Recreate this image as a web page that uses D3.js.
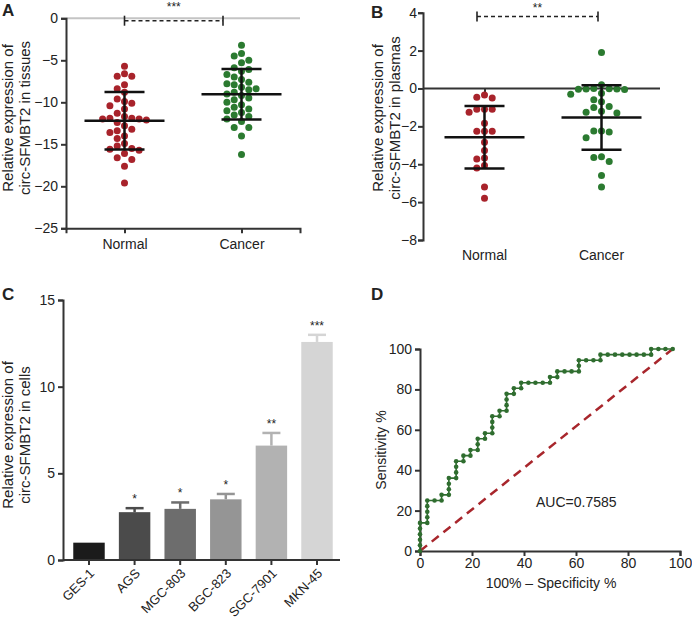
<!DOCTYPE html>
<html>
<head>
<meta charset="utf-8">
<script src="https://cdn.jsdelivr.net/npm/d3@7"></script>
<style>
body { margin: 0; background: #fff; }
text { font-family: Arial, "Liberation Sans", sans-serif; fill: #222; }
</style>
</head>
<body>
<div id="chart"></div>
<script>
// panel A / B groups
var groups = ['Normal', 'Cancer'];

var tissueNormal = [-5.7, -6.6, -6.9, -6.9, -7.9, -8.4, -8.8, -9.6, -9.9, -10.1, -10.4, -10.8, -11.3, -11.7, -11.9,
    -11.9, -12.0, -12.0, -12.1, -12.4, -12.8, -13.2, -13.4, -13.6, -14.0, -14.3, -14.9, -15.2, -15.5, -15.6,
    -15.7, -16.1, -16.6, -16.8, -17.6, -19.6];
var tissueCancer = [-3.2, -4.2, -4.5, -5.0, -5.3, -5.9, -6.1, -6.3, -6.7, -7.0, -7.3, -7.6, -7.8, -7.9, -8.2,
    -8.4, -8.5, -8.8, -9.0, -9.2, -9.5, -9.7, -10.0, -10.3, -10.6, -10.8, -11.0, -11.2, -11.5, -11.7,
    -12.0, -12.3, -13.0, -13.0, -14.0, -16.2];
var tissueMean = [-12.2, -9.05];
var tissueSD = [3.43, 3.0];

var plasmaNormal = [-0.35, -0.47, -0.5, -1.1, -1.1, -1.1, -1.26, -1.84, -2.26, -2.26, -2.26, -2.84, -3.28,
    -3.67, -3.72, -4.07, -4.2, -5.2, -5.8];
var plasmaCancer = [1.9, 0.2, 0.0, -0.02, -0.03, -0.03, -0.04, -0.05, -0.25, -0.3, -0.6, -0.7, -0.95, -1.0,
    -1.2, -1.25, -1.3, -2.25, -2.25, -2.3, -2.6, -3.6, -3.65, -3.85, -4.6, -5.2];
var plasmaMean = [-2.58, -1.53];
var plasmaSD = [1.65, 1.7];

// panel C
var cellLines = ['GES-1', 'AGS', 'MGC-803', 'BGC-823', 'SGC-7901', 'MKN-45'];
var cellValues = [1.0, 2.76, 2.95, 3.5, 6.6, 12.58];
var cellErrors = [0, 0.23, 0.37, 0.31, 0.73, 0.41];
var cellStars = ['', '*', '*', '*', '**', '***'];

// panel D
var rocFpr = [0, 0, 0, 0, 0, 0, 2.8, 2.8, 2.8, 2.8, 2.8, 5.6, 8.3, 8.3, 11.1, 11.1, 11.1, 11.1,
    13.9, 13.9, 13.9, 13.9, 16.7, 16.7, 19.4, 19.4, 22.2, 22.2, 22.2, 25, 25, 27.8, 27.8, 27.8, 27.8,
    30.6, 30.6, 33.3, 33.3, 33.3, 33.3, 36.1, 36.1, 38.9, 38.9, 41.7, 44.4, 47.2, 50, 50, 52.8, 52.8,
    55.6, 58.3, 61.1, 61.1, 61.1, 63.9, 66.7, 69.4, 69.4, 72.2, 75, 77.8, 80.6, 83.3, 86.1, 88.9, 88.9,
    91.7, 94.4, 97.2];
var rocTpr = [0, 2.8, 5.6, 8.3, 11.1, 13.9, 13.9, 16.7, 19.4, 22.2, 25, 25, 25, 27.8, 27.8, 30.6, 33.3, 36.1,
    36.1, 38.9, 41.7, 44.4, 44.4, 47.2, 47.2, 50, 50, 52.8, 55.6, 55.6, 58.3, 58.3, 61.1, 63.9, 66.7,
    66.7, 69.4, 69.4, 72.2, 75, 77.8, 77.8, 80.6, 80.6, 83.3, 83.3, 83.3, 83.3, 83.3, 86.1, 86.1, 88.9,
    88.9, 88.9, 88.9, 91.7, 94.4, 94.4, 94.4, 94.4, 97.2, 97.2, 97.2, 97.2, 97.2, 97.2, 97.2, 97.2, 100,
    100, 100, 100];
var aucText = 'AUC=0.7585';

var red = '#a8232b', green = '#2b7a30';

var svg = d3.select('#chart').append('svg')
    .attr('width', 692)
    .attr('height', 623);

function styleAxis(g) {
    g.select('.domain').attr('stroke', '#333').attr('stroke-width', 2);
    g.selectAll('.tick line').attr('stroke', '#333').attr('stroke-width', 2);
    g.selectAll('.tick text').attr('font-size', '14px').attr('fill', '#222')
        .style('font-family', 'Arial, "Liberation Sans", sans-serif');
}

function panelLabel(txt, x, y) {
    svg.append('text').attr('x', x).attr('y', y)
        .attr('font-size', '17px').attr('font-weight', 'bold').text(txt);
}

function yTitle(lines, x, yc) {
    lines.forEach(function(l, i) {
        svg.append('text')
            .attr('transform', 'translate(' + (x + i * 17) + ',' + yc + ') rotate(-90)')
            .attr('text-anchor', 'middle')
            .attr('font-size', '15px')
            .text(l);
    });
}

// simple beeswarm: each point goes to the nearest free column
function swarm(vals, y, cx, dx, r) {
    var placed = [];
    vals.slice().sort(function(a, b) { return b - a; }).forEach(function(v) {
        var py = y(v);
        for (var k = 0; k < 30; k++) {
            var off = k === 0 ? 0 : (k % 2 ? -Math.ceil(k / 2) : Math.ceil(k / 2));
            var px = cx + off * dx;
            var free = placed.every(function(p) {
                return Math.hypot(p.x - px, p.y - py) >= 2 * r - 0.2;
            });
            if (free) { placed.push({x: px, y: py}); break; }
        }
    });
    return placed;
}

function scatterPanel(opt) {
    var x = opt.x, y = opt.y;
    [opt.a, opt.b].forEach(function(vals, i) {
        var cx = x(groups[i]);
        var pts = swarm(vals, y, cx, opt.dx, 3.5);
        svg.append('g').selectAll('circle')
            .data(pts)
            .enter()
            .append('circle')
            .attr('cx', function(d) { return d.x; })
            .attr('cy', function(d) { return d.y; })
            .attr('r', 3.5)
            .attr('fill', i === 0 ? red : green);
    });
    groups.forEach(function(gname, i) {
        var cx = x(gname), m = opt.mean[i], s = opt.sd[i];
        var g = svg.append('g').attr('stroke', '#111').attr('stroke-width', 2.5);
        g.append('line').attr('x1', cx).attr('x2', cx).attr('y1', y(m + s)).attr('y2', y(m - s));
        g.append('line').attr('x1', cx - 40).attr('x2', cx + 40).attr('y1', y(m)).attr('y2', y(m));
        [m + s, m - s].forEach(function(v) {
            g.append('line').attr('x1', cx - 20).attr('x2', cx + 20).attr('y1', y(v)).attr('y2', y(v));
        });
    });
}

function bracket(x1, x2, yy, stars, sy) {
    var g = svg.append('g').attr('stroke', '#222').attr('stroke-width', 1.6);
    g.append('line').attr('x1', x1).attr('x2', x2).attr('y1', yy).attr('y2', yy)
        .attr('stroke-dasharray', '4,3');
    [x1, x2].forEach(function(xx) {
        g.append('line').attr('x1', xx).attr('x2', xx).attr('y1', yy - 5).attr('y2', yy + 5);
    });
    svg.append('text').attr('x', (x1 + x2) / 2).attr('y', sy)
        .attr('text-anchor', 'middle').attr('font-size', '12px').text(stars);
}

// ---------- Panel A ----------
var xA = d3.scalePoint().domain(groups).range([66, 300]).padding(0.5);
var yA = d3.scaleLinear().domain([-25, 0]).range([228.3, 18.3]);

svg.append('line').attr('x1', 66).attr('x2', 300).attr('y1', yA(0)).attr('y2', yA(0))
    .attr('stroke', '#c4c4c4').attr('stroke-width', 2);

svg.append('g').attr('transform', 'translate(0,' + yA(-25) + ')')
    .call(d3.axisBottom(xA).tickSizeOuter(0).tickSize(5).tickPadding(6))
    .call(styleAxis);
svg.append('g').attr('transform', 'translate(66,0)')
    .call(d3.axisLeft(yA).tickValues([0, -5, -10, -15, -20, -25]).tickSizeOuter(0).tickSize(5).tickPadding(3))
    .call(styleAxis);

scatterPanel({x: xA, y: yA, a: tissueNormal, b: tissueCancer, mean: tissueMean, sd: tissueSD, dx: 7.3});
bracket(xA('Normal'), 223, 20.7, '***', 11);
panelLabel('A', 2, 16);
yTitle(['Relative expression of', 'circ-SFMBT2 in tissues'], 13, 118);

// ---------- Panel B ----------
var xB = d3.scalePoint().domain(groups).range([426, 660]).padding(0.5);
var yB = d3.scaleLinear().domain([-8, 4]).range([240, 12.7]);

svg.append('g').attr('transform', 'translate(423,0)')
    .call(d3.axisLeft(yB).tickValues([4, 2, 0, -2, -4, -6, -8]).tickSizeOuter(0).tickSize(5).tickPadding(1))
    .call(styleAxis);
svg.append('g').attr('transform', 'translate(0,' + yB(0) + ')')
    .call(d3.axisBottom(xB).tickSizeOuter(0).tickSize(5).tickFormat(''))
    .call(styleAxis)
    .select('.domain').attr('d', 'M423,0H660');
svg.append('g').selectAll('text')
    .data(groups)
    .enter()
    .append('text')
    .attr('x', function(d) { return xB(d); })
    .attr('y', 260)
    .attr('text-anchor', 'middle')
    .attr('font-size', '14px')
    .text(function(d) { return d; });

scatterPanel({x: xB, y: yB, a: plasmaNormal, b: plasmaCancer, mean: plasmaMean, sd: plasmaSD, dx: 7.7});
bracket(477, 598, 16.5, '**', 11.5);
panelLabel('B', 371, 18);
yTitle(['Relative expression of', 'circ-SFMBT2 in plasmas'], 383, 118);

// ---------- Panel C ----------
var xC = d3.scaleBand().domain(cellLines).range([63, 343]).paddingInner(0.31).paddingOuter(0.225);
var yC = d3.scaleLinear().domain([0, 15]).range([560, 300]);
var greys = ['#1b1b1b', '#4b4b4b', '#6d6d6d', '#959595', '#b2b2b2', '#d5d5d5'];

svg.append('g').selectAll('rect')
    .data(cellValues)
    .enter()
    .append('rect')
    .attr('x', function(d, i) { return xC(cellLines[i]); })
    .attr('y', function(d) { return yC(d); })
    .attr('width', xC.bandwidth())
    .attr('height', function(d) { return yC(0) - yC(d); })
    .attr('fill', function(d, i) { return greys[i]; });

var errG = svg.append('g').selectAll('g')
    .data(cellValues)
    .enter()
    .filter(function(d, i) { return cellErrors[i] > 0; })
    .append('g')
    .attr('stroke', function(d) { return greys[cellValues.indexOf(d)]; })
    .attr('stroke-width', 2.5);
errG.append('line')
    .attr('x1', function(d) { return xC(cellLines[cellValues.indexOf(d)]) + xC.bandwidth() / 2; })
    .attr('x2', function(d) { return xC(cellLines[cellValues.indexOf(d)]) + xC.bandwidth() / 2; })
    .attr('y1', function(d) { return yC(d); })
    .attr('y2', function(d) { return yC(d + cellErrors[cellValues.indexOf(d)]); });
errG.append('line')
    .attr('x1', function(d) { return xC(cellLines[cellValues.indexOf(d)]) + xC.bandwidth() / 2 - 9; })
    .attr('x2', function(d) { return xC(cellLines[cellValues.indexOf(d)]) + xC.bandwidth() / 2 + 9; })
    .attr('y1', function(d) { return yC(d + cellErrors[cellValues.indexOf(d)]); })
    .attr('y2', function(d) { return yC(d + cellErrors[cellValues.indexOf(d)]); });

svg.append('g').selectAll('text')
    .data(cellStars)
    .enter()
    .append('text')
    .attr('x', function(d, i) { return xC(cellLines[i]) + xC.bandwidth() / 2; })
    .attr('y', function(d, i) { return yC(cellValues[i] + cellErrors[i]) - 5; })
    .attr('text-anchor', 'middle')
    .attr('font-size', '12px')
    .text(function(d) { return d; });

var axC = svg.append('g').attr('transform', 'translate(0,560)')
    .call(d3.axisBottom(xC).tickSizeOuter(0).tickSize(5))
    .call(styleAxis);
axC.select('.domain').attr('d', 'M63,0H340');
axC.selectAll('.tick text')
    .attr('font-size', '13px')
    .attr('text-anchor', 'end')
    .attr('x', 0).attr('y', 0).attr('dy', '0.35em')
    .attr('transform', 'translate(3,11) rotate(-45)');
svg.append('g').attr('transform', 'translate(63,0)')
    .call(d3.axisLeft(yC).tickValues([0, 5, 10, 15]).tickSizeOuter(0).tickSize(5).tickPadding(3))
    .call(styleAxis);

panelLabel('C', 2, 300);
yTitle(['Relative expression of', 'circ-SFMBT2 in cells'], 13, 435);

// ---------- Panel D ----------
var xD = d3.scaleLinear().domain([0, 100]).range([420, 680]);
var yD = d3.scaleLinear().domain([0, 100]).range([551, 349]);

svg.append('g').attr('transform', 'translate(0,551)')
    .call(d3.axisBottom(xD).ticks(5).tickSizeOuter(0).tickSize(5).tickPadding(2))
    .call(styleAxis);
svg.append('g').attr('transform', 'translate(420,0)')
    .call(d3.axisLeft(yD).ticks(5).tickSizeOuter(0).tickSize(5).tickPadding(3))
    .call(styleAxis);

svg.append('line')
    .attr('x1', xD(0)).attr('y1', yD(0))
    .attr('x2', xD(rocFpr[rocFpr.length - 1])).attr('y2', yD(100))
    .attr('stroke', '#a8262c').attr('stroke-width', 2.5).attr('stroke-dasharray', '9,6');

var rocPts = rocFpr.map(function(f, i) { return [f, rocTpr[i]]; });
svg.append('path')
    .datum(rocPts)
    .attr('d', d3.line().x(function(d) { return xD(d[0]); }).y(function(d) { return yD(d[1]); }))
    .attr('fill', 'none')
    .attr('stroke', '#2f6d2f')
    .attr('stroke-width', 1.6);
svg.append('g').selectAll('circle')
    .data(rocPts)
    .enter()
    .append('circle')
    .attr('cx', function(d) { return xD(d[0]); })
    .attr('cy', function(d) { return yD(d[1]); })
    .attr('r', 2.3)
    .attr('fill', '#2f6d2f');

svg.append('text').attr('x', 536).attr('y', 507).attr('font-size', '14px').text(aucText);
svg.append('text').attr('x', 551).attr('y', 588).attr('text-anchor', 'middle')
    .attr('font-size', '14px').text('100% \u2013 Specificity %');
svg.append('text')
    .attr('transform', 'translate(386,450) rotate(-90)')
    .attr('text-anchor', 'middle').attr('font-size', '14px').text('Sensitivity %');
panelLabel('D', 371, 300);
</script>
</body>
</html>
